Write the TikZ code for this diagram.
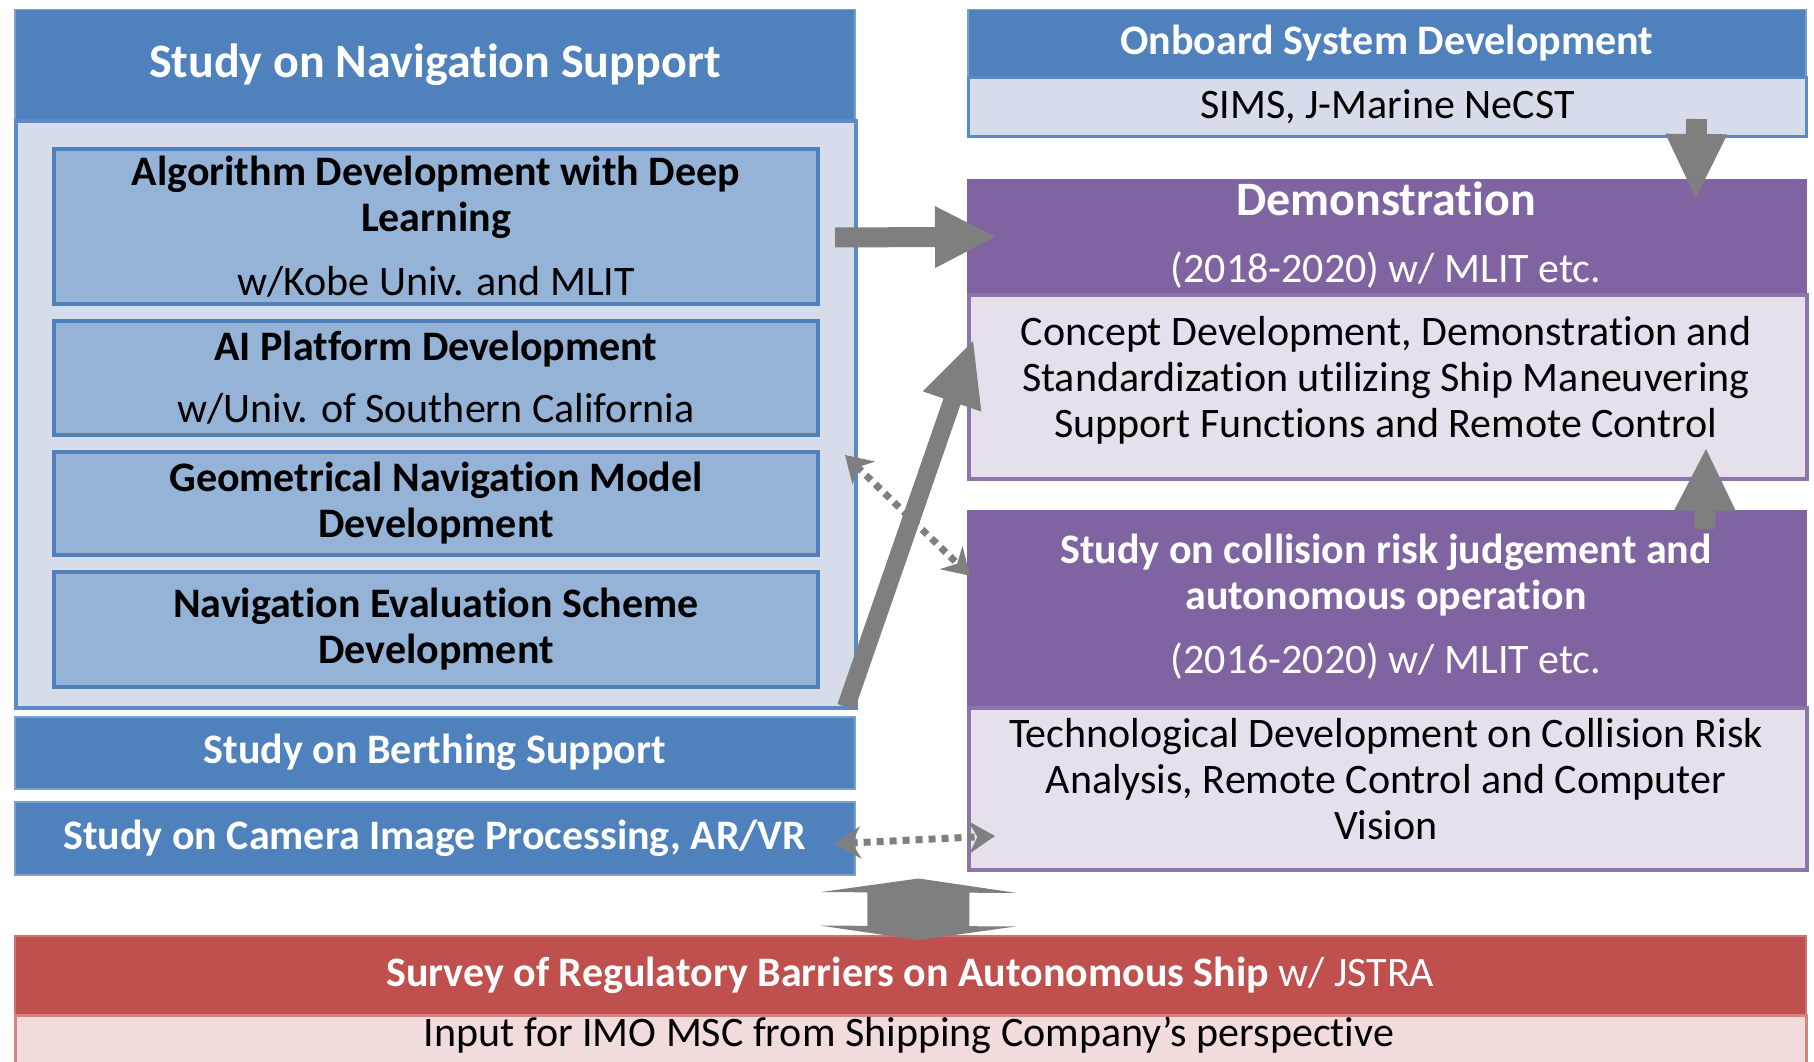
\documentclass[tikz,border=0pt]{standalone}
\usepackage{fontspec}
\setmainfont{Carlito}[Ligatures=NoCommon]
\usetikzlibrary{calc,arrows.meta}
\definecolor{hdrblue}{HTML}{4F81BD}
\definecolor{lightblue}{HTML}{D6DCEA}
\definecolor{midblue}{HTML}{95B3D7}
\definecolor{edgeblue}{HTML}{5B8BC7}
\definecolor{hdrpurple}{HTML}{8064A2}
\definecolor{lightpurple}{HTML}{E6E0EC}
\definecolor{hdrred}{HTML}{C0504D}
\definecolor{lightred}{HTML}{F2DCDB}
\definecolor{arrowgray}{HTML}{7F7F7F}
\newcommand\rect[7]{\node[#6, anchor=north west, inner sep=0pt, minimum width={#4pt-#2pt}, minimum height={#5pt-#3pt}] (#1) at (#2,#3) {#7};}
\newcommand\blockarrow[5]{%
  \coordinate (bac) at ($(#2)!#5!(#1)$);
  \fill[arrowgray] ($(#1)!#3!90:(#2)$) -- ($(bac)!#3!-90:(#1)$) -- ($(bac)!#4!-90:(#1)$) -- (#2) -- ($(bac)!#4!90:(#1)$) -- ($(bac)!#3!90:(#1)$) -- ($(#1)!#3!-90:(#2)$) -- cycle;}
\newcommand\dblockarrow[5]{%
  \coordinate (dca) at ($(#1)!#5!(#2)$);
  \coordinate (dcb) at ($(#2)!#5!(#1)$);
  \fill[arrowgray] (#1) -- ($(dca)!#4!90:(#2)$) -- ($(dca)!#3!90:(#2)$) -- ($(dcb)!#3!-90:(#1)$) -- ($(dcb)!#4!-90:(#1)$) -- (#2) -- ($(dcb)!#4!90:(#1)$) -- ($(dcb)!#3!90:(#1)$) -- ($(dca)!#3!-90:(#2)$) -- ($(dca)!#4!-90:(#2)$) -- cycle;}
\tikzset{
  hdr/.style={fill=hdrblue, draw=hdrblue!75!white, line width=1.5pt, text=white, font=\fontsize{42}{46}\selectfont\bfseries, align=center},
  navbodystyle/.style={fill=lightblue, draw=edgeblue, line width=4pt},
  subbox/.style={fill=midblue, draw=hdrblue, line width=4pt, font=\fontsize{42}{46}\selectfont\bfseries, align=center},
  lbody/.style={fill=lightblue, draw=edgeblue, line width=3pt, font=\fontsize{42}{46}\selectfont, align=center},
  phdr/.style={fill=hdrpurple, draw=hdrpurple, line width=1.5pt},
  pbody/.style={fill=lightpurple, draw=hdrpurple!90!white, line width=4pt},
  rhdr/.style={fill=hdrred, draw=hdrred!80!white, line width=1.5pt, text=white, font=\fontsize{42}{46}\selectfont, align=center},
  rbody/.style={fill=lightred, draw=hdrred!70!white, line width=3pt},
  txt/.style={font=\fontsize{42}{46}\selectfont, align=center, inner sep=0pt},
  wtxt/.style={txt, text=white},
  dotarrow/.style={draw=arrowgray, line width=7pt, dash pattern=on 7pt off 6pt, {Stealth[length=26pt,width=32pt]}-{Stealth[length=26pt,width=32pt]}},
}
\begin{document}
\begin{tikzpicture}[x=1pt,y=-1pt]
\useasboundingbox (0,0) rectangle (1814,1062);
\fill[white] (0,0) rectangle (1814,1062);
% left column
\rect{navhdr}{14}{9}{854}{119}{hdr, font=\fontsize{48}{52}\selectfont\bfseries}{Study on Navigation Support}
\rect{navbody}{14}{119}{854}{706}{navbodystyle}{}
\rect{algo}{52}{147}{816}{302}{subbox}{Algorithm Development with Deep\\Learning\\[18pt]{\mdseries w/Kobe Univ. and MLIT}}
\rect{aiplat}{52}{319}{816}{433}{subbox}{AI Platform Development\\[16pt]{\mdseries w/Univ. of Southern California}}
\rect{geom}{52}{450}{816}{553}{subbox}{Geometrical Navigation Model\\Development}
\rect{evals}{52}{570}{816}{685}{subbox}{Navigation Evaluation Scheme\\Development}
\rect{berth}{14}{716}{854}{788}{hdr}{Study on Berthing Support}
\rect{camera}{14}{801}{854}{874}{hdr}{Study on Camera Image Processing, AR/VR}
% right column
\rect{onhdr}{967}{9}{1805}{76}{hdr}{Onboard System Development}
\rect{onbody}{967}{76}{1805}{135}{lbody}{SIMS, J-Marine NeCST}
\rect{demohdr}{967}{179}{1805}{293}{phdr}{}
\node[wtxt, font=\fontsize{48}{52}\selectfont\bfseries] (demotitle) at (1386,199) {Demonstration};
\node[wtxt] (demoyear) at (1386,270) {(2018-2020) w/ MLIT etc.};
\rect{demobody}{967}{293}{1805}{477}{pbody}{}
\node[txt] (demotext) at (1386,380) {Concept Development, Demonstration and\\Standardization utilizing Ship Maneuvering\\Support Functions and Remote Control};
\rect{colhdr}{967}{510}{1805}{706}{phdr}{}
\node[wtxt, font=\fontsize{42}{46}\selectfont\bfseries] (coltitle) at (1386,575) {Study on collision risk judgement and\\autonomous operation};
\node[wtxt] (colyear) at (1386,661) {(2016-2020) w/ MLIT etc.};
\rect{colbody}{967}{706}{1805}{868}{pbody}{}
\node[txt] (coltext) at (1386,779) {Technological Development on Collision Risk\\Analysis, Remote Control and Computer\\Vision};
% bottom
\rect{survhdr}{14}{935}{1805}{1014}{rhdr}{\textbf{Survey of Regulatory Barriers on Autonomous Ship} w/ JSTRA}
\rect{survbody}{14}{1014}{1805}{1080}{rbody}{}
\node[txt] (survtext) at (909,1035) {Input for IMO MSC from Shipping Company’s perspective};
% block arrows
\coordinate (a1s) at ($(algo.east)+(15,11)$);
\coordinate (a1e) at ($(demohdr.west)+(28,0)$);
\blockarrow{a1s}{a1e}{10pt}{31pt}{60pt}
\coordinate (a2s) at ($(navbody.south east)+(-12,-3)$);
\coordinate (a2e) at ($(demobody.west)+(6,-46)$);
\blockarrow{a2s}{a2e}{9pt}{31pt}{64pt}
\coordinate (a3s) at ($(onbody.south)+(309,-19)$);
\coordinate (a3e) at ($(demohdr.north)+(309,19)$);
\blockarrow{a3s}{a3e}{10.5pt}{31pt}{64pt}
\coordinate (a4s) at ($(colhdr.north)+(318,19)$);
\coordinate (a4e) at ($(demobody.south)+(318,-32)$);
\blockarrow{a4s}{a4e}{10.5pt}{31pt}{62pt}
\coordinate (a5t) at ($(camera.south east)+(63,3)$);
\coordinate (a5b) at ($(survhdr.north)+(8,5)$);
\dblockarrow{a5t}{a5b}{51pt}{98pt}{14pt}
% dotted arrows
\coordinate (d1a) at ($(geom.north east)+(25,5)$);
\coordinate (d1b) at ($(colhdr.west)+(3,-33)$);
\draw[dotarrow] (d1a) -- (d1b);
\coordinate (d2a) at ($(camera.east)+(-21,5.5)$);
\coordinate (d2b) at ($(colbody.west)+(28,47)$);
\draw[dotarrow] (d2a) -- (d2b);
\end{tikzpicture}
\end{document}
